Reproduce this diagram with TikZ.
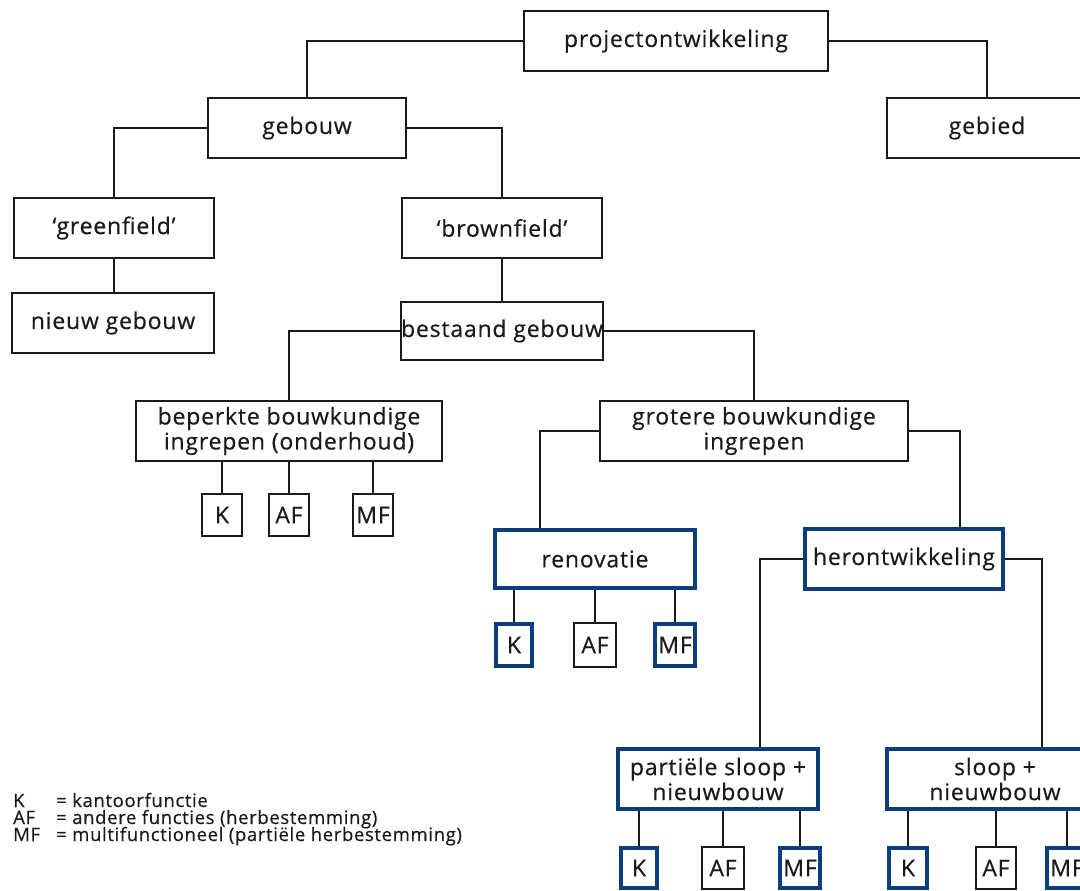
\documentclass[tikz,border=0pt]{standalone}
\usepackage{fontspec}
\setmainfont{Open Sans}[LetterSpace=3.5, FakeBold=0.4]
\definecolor{navy}{HTML}{0B3D7C}
\definecolor{ink}{HTML}{1A1A1A}
\newcommand{\boxfont}{\fontsize{23}{25}\selectfont}
\newcommand{\keyfont}{\fontsize{18.5}{18}\selectfont}
\tikzset{
  box/.style={draw=ink, line width=2pt, fill=white, text=ink, font=\boxfont,
              align=center, inner sep=0pt},
  bluebox/.style={box, draw=navy, line width=4pt},
  link/.style={draw=ink, line width=2pt},
  keytext/.style={font=\keyfont, text=ink, anchor=base west, inner sep=0pt}
}
\begin{document}
\begin{tikzpicture}[x=1pt,y=-1pt]
\useasboundingbox (0,0) rectangle (1080,891);
\clip (0,0) rectangle (1080,891);

% top levels
\node[box, minimum width=304, minimum height=60] (proj) at (676,41) {projectontwikkeling};
\node[box, minimum width=198, minimum height=60] (gebouw) at (307,128) {gebouw};
\node[box, minimum width=200, minimum height=60] (gebied) at (987,128) {gebied};
\node[box, minimum width=200, minimum height=60] (green) at (114,228) {‘greenfield’};
\node[box, minimum width=200, minimum height=60] (brown) at (502,228) {‘brownfield’};
\node[box, minimum width=202, minimum height=60] (nieuw) at (113,323) {nieuw gebouw};
\node[box, minimum width=202, minimum height=58] (bestaand) at (502,331) {bestaand gebouw};

% interventions
\node[box, minimum width=306, minimum height=60] (beperkt) at (289,431) {beperkte bouwkundige\\ingrepen (onderhoud)};
\node[box, minimum width=308, minimum height=60] (groot) at (754,431) {grotere bouwkundige\\ingrepen};

\node[box, minimum width=40, minimum height=42] (bK) at (222,515) {K};
\node[box, minimum width=40, minimum height=42] (bAF) at (289,515) {AF};
\node[box, minimum width=40, minimum height=42] (bMF) at (373,515) {MF};

% renovation
\node[bluebox, minimum width=200, minimum height=58] (renov) at (595,559) {renovatie};
\node[bluebox, minimum width=36, minimum height=42] (rK) at (514,645) {K};
\node[box, minimum width=42, minimum height=44] (rAF) at (595,645) {AF};
\node[bluebox, minimum width=40, minimum height=42] (rMF) at (675,645) {MF};

% redevelopment
\node[bluebox, minimum width=198, minimum height=60] (heront) at (904,559) {herontwikkeling};
\node[bluebox, minimum width=200, minimum height=60] (partieel) at (718,779) {partiële sloop +\\nieuwbouw};
\node[bluebox, minimum width=216, minimum height=60] (sloop) at (995,779) {sloop +\\nieuwbouw};

\node[bluebox, minimum width=36, minimum height=40] (pK) at (639,868) {K};
\node[box, minimum width=42, minimum height=42] (pAF) at (723,868) {AF};
\node[bluebox, minimum width=40, minimum height=40] (pMF) at (800,868) {MF};

\node[bluebox, minimum width=38, minimum height=40] (sK) at (908,868) {K};
\node[box, minimum width=40, minimum height=42] (sAF) at (996,868) {AF};
\node[bluebox, minimum width=40, minimum height=40] (sMF) at (1067,868) {MF};

% tree connectors
\draw[link] (proj.west) -| (gebouw.north);
\draw[link] (proj.east) -| (gebied.north);
\draw[link] (gebouw.west) -| (green.north);
\draw[link] (gebouw.east) -| (brown.north);
\draw[link] (green.south) -- (green.south |- nieuw.north);
\draw[link] (brown.south) -- (bestaand.north);
\draw[link] (bestaand.west) -| (beperkt.north);
\draw[link] (bestaand.east) -| (groot.north);
\draw[link] (groot.west) -| ([xshift=-55pt]renov.north);
\draw[link] (groot.east) -| ([xshift=56pt]heront.north);
\draw[link] (heront.west) -| ([xshift=42pt]partieel.north);
\draw[link] (heront.east) -| ([xshift=47pt]sloop.north);

% drops to the function boxes
\foreach \c/\p in {bK/beperkt, bAF/beperkt, bMF/beperkt,
                   rK/renov, rAF/renov, rMF/renov,
                   pK/partieel, pAF/partieel, pMF/partieel,
                   sK/sloop, sAF/sloop, sMF/sloop}
  \draw[link] (\c.north) -- (\c.north |- \p.south);

% key
\node[keytext] (k1) at (13,807) {K};
\node[keytext] (k2) at (13,824) {AF};
\node[keytext] (k3) at (13,841) {MF};
\node[keytext] (v1) at (56,807) {= kantoorfunctie};
\node[keytext] (v2) at (56,824) {= andere functies (herbestemming)};
\node[keytext] (v3) at (56,841) {= multifunctioneel (partiële herbestemming)};
\end{tikzpicture}
\end{document}
